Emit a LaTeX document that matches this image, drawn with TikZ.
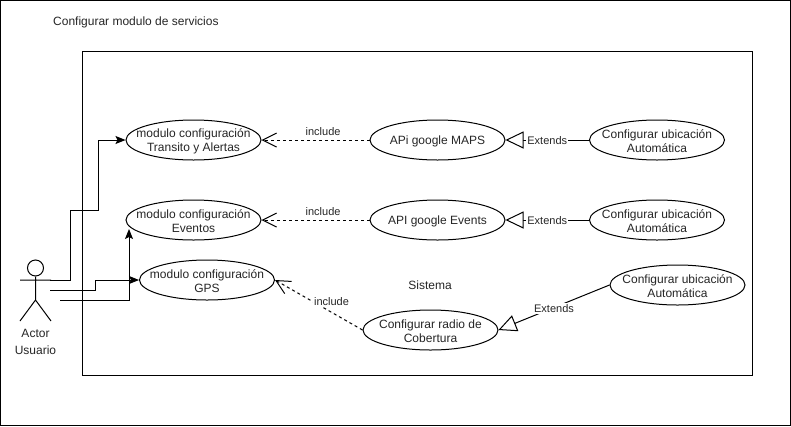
\documentclass[tikz,border=0pt]{standalone}
\usepackage{fontspec}
\setmainfont{Liberation Sans}
\usetikzlibrary{arrows.meta,shapes.geometric}
\tikzset{
  uc/.style={ellipse,draw=black,fill=white,line width=1pt,minimum width=135pt,minimum height=40pt,inner sep=0pt},
  uctext/.style={align=center,font=\fontsize{12}{14}\selectfont,inner sep=0pt,text=black!85,yshift=-1pt},
  frame/.style={draw=black,line width=1pt},
  assoc/.style={draw=black,line width=1pt,-{Stealth[length=10pt,width=8pt,inset=2pt]}},
  inc/.style={draw=black,line width=1pt,dash pattern=on 3pt off 3pt,-{Straight Barb[length=14pt,width=14pt,line width=1pt]}},
  ext/.style={draw=black,line width=1pt,-{Triangle[open,fill=white,length=18pt,width=17pt,line width=1pt]}},
  elab/.style={font=\fontsize{11}{13}\selectfont,inner sep=1pt,text=black!85},
  lab/.style={font=\fontsize{12}{14}\selectfont,inner sep=0pt,text=black!85}
}
\begin{document}
\begin{tikzpicture}[x=1pt,y=-1pt]
\useasboundingbox (0,0) rectangle (791,426);
\fill[white] (0,0) rectangle (791,426);
\node[frame,minimum width=790pt,minimum height=425pt,inner sep=0pt] (outer) at (395.5,213) {};
\node[frame,minimum width=670pt,minimum height=324pt,inner sep=0pt] (sys) at (417,213) {};
\node[lab,anchor=west] (title) at (53,22) {Configurar modulo de servicios};
\node[lab] (sistema) at (430,285) {Sistema};

\node[uc,label={[uctext]center:{modulo configuración\\Transito y Alertas}}] (m1) at (193.5,140) {};
\node[uc,label={[uctext]center:{modulo configuración\\Eventos}}] (m2) at (193.5,220) {};
\node[uc,label={[uctext]center:{modulo configuración\\GPS}}] (m3) at (207,280) {};
\node[uc,label={[uctext]center:{APi google MAPS}}] (a1) at (437.5,140) {};
\node[uc,label={[uctext]center:{API google Events}}] (a2) at (437.5,220) {};
\node[uc,label={[uctext]center:{Configurar radio de\\Cobertura}}] (r) at (430.5,330) {};
\node[uc,label={[uctext]center:{Configurar ubicación\\Automática}}] (c1) at (657,140) {};
\node[uc,label={[uctext]center:{Configurar ubicación\\Automática}}] (c2) at (657,220) {};
\node[uc,label={[uctext]center:{Configurar ubicación\\Automática}}] (c3) at (677.5,285) {};

% actor
\node[circle,draw=black,fill=white,line width=1pt,minimum size=16pt,inner sep=0pt] (head) at (35.5,268) {};
\coordinate (hip) at (35.5,300);
\coordinate (armL) at (20,280);
\coordinate (armR) at (51,280);
\coordinate (legL) at (20,321);
\coordinate (legR) at (51,321);
\draw[line width=1pt] (head.south) -- (hip) (armL) -- (armR) (legL) -- (hip) -- (legR);
\node[lab,align=center] (actor) at (35.5,342) {Actor\\[3pt]Usuario};

% actor connectors
\coordinate (s1) at (50,280);
\coordinate (s2) at (50,290);
\coordinate (s3) at (60,300);
\coordinate (t3) at (129,229);
\draw[assoc] (s1) -- (70,280) -- (70,210) -- (98,210) -- (98,140) -- (m1.west);
\draw[assoc] (s2) -- (95,290) -- (95,280) -- (m3.west);
\draw[assoc] (s3) -- (129,300) -- (t3);

% include
\draw[inc] (a1.west) -- node[elab,pos=.43,above=3pt] (i1) {include} (m1.east);
\draw[inc] (a2.west) -- node[elab,pos=.43,above=3pt] (i2) {include} (m2.east);
\draw[inc] (r.west) -- node[elab,pos=.57,anchor=west,fill=white] (i3) {include} (m3.east);

% extends
\draw[ext] (c1.west) -- node[elab,pos=.5,fill=white,yshift=-1pt] (e1) {Extends} (a1.east);
\draw[ext] (c2.west) -- node[elab,pos=.5,fill=white,yshift=-1pt] (e2) {Extends} (a2.east);
\draw[ext] (c3.west) -- node[elab,pos=.5,fill=white,yshift=-1pt] (e3) {Extends} (r.east);
\end{tikzpicture}
\end{document}
